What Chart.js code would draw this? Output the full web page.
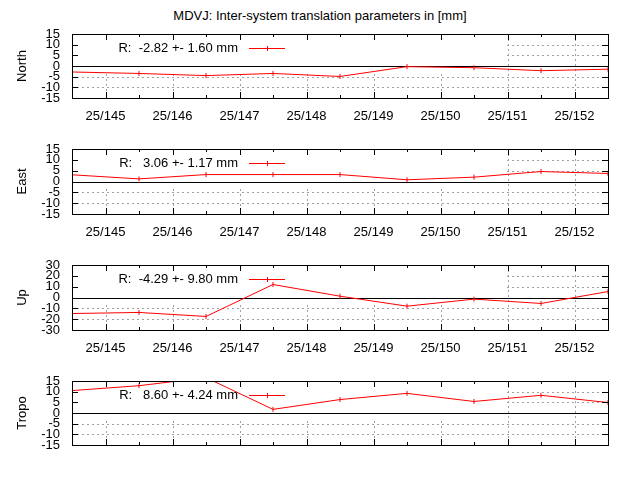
<!DOCTYPE html>
<html><head><meta charset="utf-8">
<script src="https://cdn.jsdelivr.net/npm/chart.js@4"></script>
<style>body{margin:0;background:#fff;width:640px;height:480px;position:relative;overflow:hidden;font-family:"Liberation Sans",Arial,sans-serif}
.p{position:absolute;left:0;width:640px}
#t{position:absolute;top:8px;left:0;width:640px;text-align:center;font-size:13px}</style>
</head><body>
<div id="t">MDVJ: Inter-system translation parameters in [mm]</div>
<div class="p" style="top:0;height:125px"><canvas id="c0"></canvas></div>
<div class="p" style="top:125px;height:116px"><canvas id="c1"></canvas></div>
<div class="p" style="top:241px;height:116px"><canvas id="c2"></canvas></div>
<div class="p" style="top:357px;height:123px"><canvas id="c3"></canvas></div>
<script>
const days = [144.5,145.5,146.5,147.5,148.5,149.5,150.5,151.5,152.5];
const dayTicks = [145,146,147,148,149,150,151,152];
const north = [-2.8,-3.5,-4.5,-3.5,-4.9,-0.3,-0.8,-2.2,-1.5];
const east  = [3.1,1.2,3.2,3.2,3.2,0.8,2.0,4.6,3.7];
const up    = [-14.8,-13.8,-17.5,12.0,1.2,-8.0,-1.5,-5.5,5.5];
const tropo = [10.5,12.8,16.6,1.7,6.3,9.2,5.4,8.3,4.9];
const names = ["North","East","Up","Tropo"];
const keys = ["R:  -2.82 +- 1.60 mm","R:   3.06 +- 1.17 mm","R:  -4.29 +- 9.80 mm","R:   8.60 +- 4.24 mm"];
const series = [north,east,up,tropo];
const ranges = [[-15,15,5],[-15,15,5],[-30,30,10],[-15,15,5]];
const padTop = [34,24,24,24];
const plotH = [64,65,65,64];
const FONT = '"Liberation Sans", Arial, sans-serif';

function gridPlugin(i){return {
  id:'g'+i,
  beforeDatasetsDraw(ch){
    const c=ch.ctx,a=ch.chartArea,x=ch.scales.x,y=ch.scales.y;
    c.save();c.strokeStyle='#a0a0a0';c.lineWidth=1;c.setLineDash([2,3]);
    dayTicks.forEach(d=>{const px=Math.round(x.getPixelForValue(d))+0.5;c.beginPath();c.moveTo(px,a.top);c.lineTo(px,a.bottom);c.stroke();});
    const r=ranges[i];
    for(let v=r[0]+r[2];v<r[1];v+=r[2]){if(v===0)continue;const py=Math.round(y.getPixelForValue(v))+0.5;c.beginPath();c.moveTo(a.left,py);c.lineTo(a.right,py);c.stroke();}
    c.setLineDash([]);
    c.fillStyle='#fff';const kx=x.getPixelForValue(151);c.fillRect(a.left+1,a.top+1,kx-a.left-1.5,39);
    c.strokeStyle='#000';const zy=Math.round(y.getPixelForValue(0))+0.5;c.beginPath();c.moveTo(a.left,zy);c.lineTo(a.right,zy);c.stroke();
    c.restore();
  },
  afterDatasetsDraw(ch){
    const c=ch.ctx,a=ch.chartArea,x=ch.scales.x,y=ch.scales.y;
    c.save();c.strokeStyle='#000';c.lineWidth=1;
    c.strokeRect(Math.round(a.left)+0.5,Math.round(a.top)+0.5,Math.round(a.right-a.left),Math.round(a.bottom-a.top));
    c.beginPath();
    for(let d=145;d<=152.5;d+=0.5){const px=Math.round(x.getPixelForValue(d))+0.5;const L=(d%1===0)?6:3;c.moveTo(px,a.bottom);c.lineTo(px,a.bottom-L);c.moveTo(px,a.top);c.lineTo(px,a.top+L);}
    const r=ranges[i];
    for(let v=r[0];v<=r[1];v+=r[2]){const py=Math.round(y.getPixelForValue(v))+0.5;c.moveTo(a.left,py);c.lineTo(a.left+6,py);c.moveTo(a.right,py);c.lineTo(a.right-6,py);}
    c.stroke();
    const ky=a.top+14;c.fillStyle='#000';c.font='13px '+FONT;c.textAlign='right';c.textBaseline='middle';
    c.fillText(keys[i],238,ky);
    c.strokeStyle='red';c.beginPath();c.moveTo(249,ky+0.5);c.lineTo(285,ky+0.5);c.moveTo(267.5,ky-2);c.lineTo(267.5,ky+3);c.stroke();
    c.restore();
  }
};}

for(let i=0;i<4;i++){
  const h=[125,116,116,123][i];
  const axisH=h-padTop[i]-plotH[i];
  new Chart(document.getElementById('c'+i),{
    type:'line',
    data:{datasets:[{data:days.map((d,k)=>({x:d,y:series[i][k]})),borderColor:'red',borderWidth:1,pointStyle:'line',rotation:90,pointRadius:2.5,pointBorderColor:'red',pointBorderWidth:1,tension:0,fill:false}]},
    options:{responsive:true,maintainAspectRatio:false,animation:false,
      layout:{padding:{top:padTop[i],right:32,left:0,bottom:0}},
      plugins:{legend:{display:false},tooltip:{enabled:false}},
      scales:{
        x:{type:'linear',min:144.5,max:152.5,
          afterBuildTicks:s=>{s.ticks=dayTicks.map(v=>({value:v}));},
          afterFit:s=>{s.height=axisH;},
          grid:{display:false,drawTicks:false},border:{display:false},
          ticks:{display:i<3,padding:11,maxRotation:0,autoSkip:false,color:'#000',font:{family:FONT,size:13},callback:v=>'25/'+v}},
        y:{min:ranges[i][0],max:ranges[i][1],
          afterBuildTicks:s=>{const r=ranges[i];const t=[];for(let v=r[0];v<=r[1];v+=r[2])t.push({value:v});s.ticks=t;},
          afterFit:s=>{s.width=72;},
          grid:{display:false,drawTicks:false},border:{display:false},
          title:{display:true,text:names[i],color:'#000',font:{family:FONT,size:13},padding:{top:15,bottom:0}},
          ticks:{padding:12,autoSkip:false,color:'#000',font:{family:FONT,size:13}}}
      }},
    plugins:[gridPlugin(i)]
  });
}
</script>
</body></html>
